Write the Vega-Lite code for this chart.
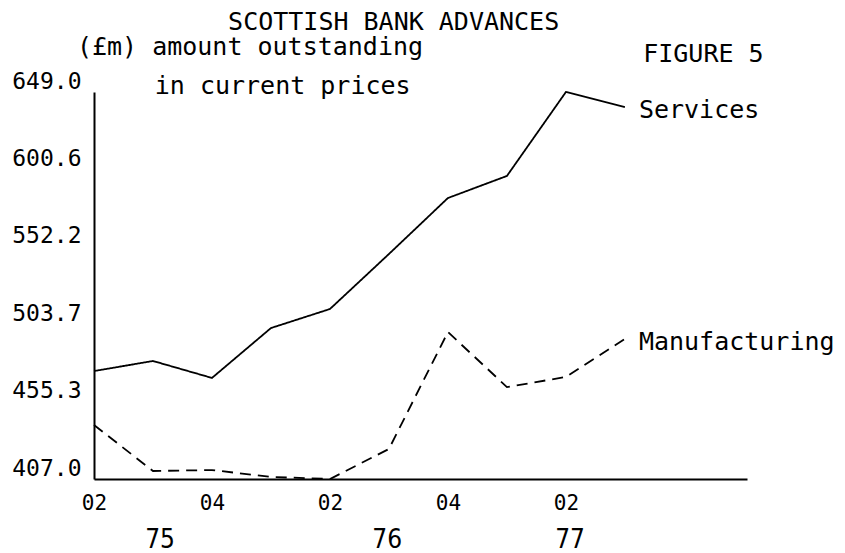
{
  "$schema": "https://vega.github.io/schema/vega-lite/v6.json",
  "width": 653,
  "height": 387,
  "autosize": {"type": "none"},
  "padding": {"left": 94, "top": 92, "right": 98, "bottom": 74},
  "background": "white",
  "config": {"view": {"stroke": null}, "font": "DejaVu Sans Mono"},
  "datasets": {
    "series": [
      {"q": 0, "period": "1975 Q2", "series": "Services", "value": 474.5},
      {"q": 1, "period": "1975 Q3", "series": "Services", "value": 480.8},
      {"q": 2, "period": "1975 Q4", "series": "Services", "value": 470.2},
      {"q": 3, "period": "1976 Q1", "series": "Services", "value": 501.4},
      {"q": 4, "period": "1976 Q2", "series": "Services", "value": 513.3},
      {"q": 5, "period": "1976 Q3", "series": "Services", "value": 547.7},
      {"q": 6, "period": "1976 Q4", "series": "Services", "value": 582.7},
      {"q": 7, "period": "1977 Q1", "series": "Services", "value": 596.5},
      {"q": 8, "period": "1977 Q2", "series": "Services", "value": 649.0},
      {"q": 9, "period": "1977 Q3", "series": "Services", "value": 639.6},
      {"q": 0, "period": "1975 Q2", "series": "Manufacturing", "value": 440.8},
      {"q": 1, "period": "1975 Q3", "series": "Manufacturing", "value": 412.0},
      {"q": 2, "period": "1975 Q4", "series": "Manufacturing", "value": 412.6},
      {"q": 3, "period": "1976 Q1", "series": "Manufacturing", "value": 408.3},
      {"q": 4, "period": "1976 Q2", "series": "Manufacturing", "value": 407.0},
      {"q": 5, "period": "1976 Q3", "series": "Manufacturing", "value": 425.8},
      {"q": 6, "period": "1976 Q4", "series": "Manufacturing", "value": 498.9},
      {"q": 7, "period": "1977 Q1", "series": "Manufacturing", "value": 464.5},
      {"q": 8, "period": "1977 Q2", "series": "Manufacturing", "value": 470.8},
      {"q": 9, "period": "1977 Q3", "series": "Manufacturing", "value": 494.6}
    ],
    "title": [{"text": "SCOTTISH BANK ADVANCES", "q": 5.08, "value": 693.0}],
    "notes": [
      {"text": "(£m) amount outstanding", "q": -0.29, "value": 672.0},
      {"text": "in current prices", "q": 1.03, "value": 647.5},
      {"text": "FIGURE 5", "q": 9.31, "value": 667.8}
    ],
    "years": [
      {"text": "75", "q": 1.12, "value": 363.8},
      {"text": "76", "q": 4.97, "value": 363.8},
      {"text": "77", "q": 8.07, "value": 363.8}
    ]
  },
  "layer": [
    {
      "data": {"name": "series"},
      "mark": {"type": "line", "color": "black", "strokeWidth": 1.8, "clip": false},
      "encoding": {
        "x": {
          "field": "q", "type": "quantitative",
          "scale": {"domain": [0, 11.07], "nice": false, "zero": false},
          "axis": {
            "title": null, "values": [0, 2, 4, 6, 8],
            "labelExpr": "datum.value % 4 == 0 ? '02' : '04'",
            "labelFontSize": 21, "labelColor": "black", "labelPadding": 13,
            "labelFont": "DejaVu Sans Mono", "labelFlush": false,
            "ticks": false, "grid": false, "domainColor": "black", "domainWidth": 2
          }
        },
        "y": {
          "field": "value", "type": "quantitative",
          "scale": {"domain": [407, 649], "nice": false, "zero": false},
          "axis": {
            "title": null, "values": [407, 455.3, 503.7, 552.2, 600.6, 649],
            "format": ".1f", "labelFontSize": 23, "labelColor": "black",
            "labelPadding": 13, "labelOffset": -11, "labelFont": "DejaVu Sans Mono",
            "labelFlush": false,
            "ticks": false, "grid": false, "domainColor": "black", "domainWidth": 2
          }
        },
        "strokeDash": {
          "field": "series", "type": "nominal",
          "scale": {"domain": ["Services", "Manufacturing"], "range": [[1, 0], [11, 7]]},
          "legend": null
        },
        "detail": {"field": "series"}
      }
    },
    {
      "data": {"name": "series"},
      "transform": [{"filter": "datum.q == 9"}],
      "mark": {"type": "text", "align": "left", "baseline": "middle", "dx": 14, "dy": 3, "fontSize": 25, "font": "DejaVu Sans Mono", "color": "black"},
      "encoding": {
        "x": {"field": "q", "type": "quantitative"},
        "y": {"field": "value", "type": "quantitative"},
        "text": {"field": "series"}
      }
    },
    {
      "data": {"name": "title"},
      "mark": {"type": "text", "align": "center", "baseline": "middle", "fontSize": 25, "font": "DejaVu Sans Mono", "color": "black"},
      "encoding": {
        "x": {"field": "q", "type": "quantitative"},
        "y": {"field": "value", "type": "quantitative"},
        "text": {"field": "text"}
      }
    },
    {
      "data": {"name": "notes"},
      "mark": {"type": "text", "align": "left", "baseline": "alphabetic", "fontSize": 25, "font": "DejaVu Sans Mono", "color": "black"},
      "encoding": {
        "x": {"field": "q", "type": "quantitative"},
        "y": {"field": "value", "type": "quantitative"},
        "text": {"field": "text"}
      }
    },
    {
      "data": {"name": "years"},
      "mark": {"type": "text", "align": "center", "baseline": "alphabetic", "fontSize": 26, "font": "DejaVu Sans Condensed", "color": "black"},
      "encoding": {
        "x": {"field": "q", "type": "quantitative"},
        "y": {"field": "value", "type": "quantitative"},
        "text": {"field": "text"}
      }
    }
  ]
}
